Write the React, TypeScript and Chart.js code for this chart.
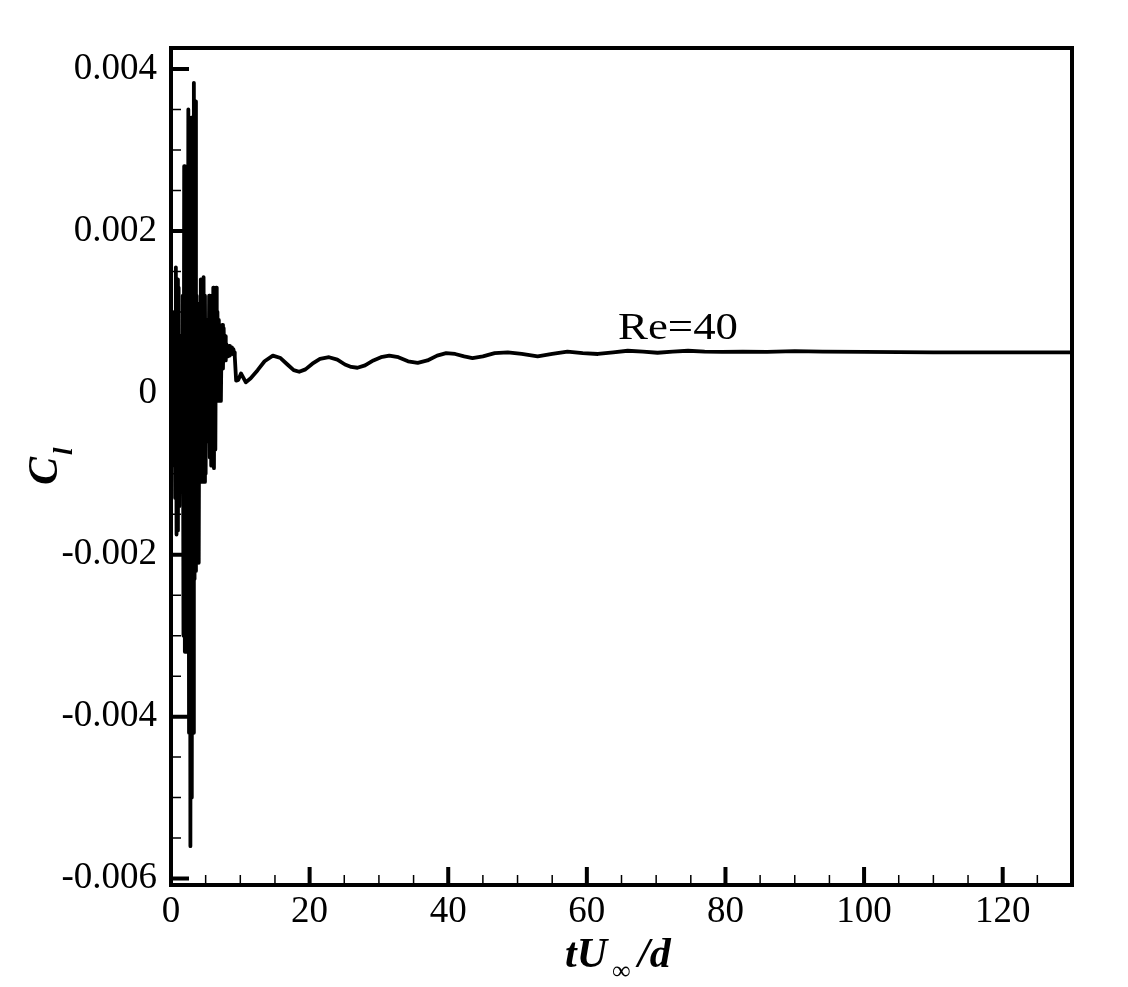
import React, { useEffect, useRef } from "react";
import { Chart, registerables } from "chart.js";

Chart.register(...registerables);

const FONT = "'Liberation Serif', 'Times New Roman', serif";

// time values tU/d
const tValues = [
  0.0, 0.1, 0.2, 0.3, 0.4, 0.5, 0.6, 0.7, 0.8, 0.9,
  1.0, 1.1, 1.2, 1.3, 1.4, 1.5, 1.6, 1.7, 1.8, 1.9,
  2.0, 2.1, 2.2, 2.3, 2.4, 2.5, 2.6, 2.7, 2.8, 2.9,
  3.0, 3.1, 3.2, 3.3, 3.4, 3.5, 3.6, 3.7, 3.8, 3.9,
  4.0, 4.1, 4.2, 4.3, 4.4, 4.5, 4.6, 4.7, 4.8, 4.9,
  5.0, 5.1, 5.2, 5.3, 5.4, 5.5, 5.6, 5.7, 5.8, 5.9,
  6.0, 6.1, 6.2, 6.3, 6.4, 6.5, 6.6, 6.7, 6.8, 6.9,
  7.0, 7.1, 7.2, 7.3, 7.4, 7.5, 7.6, 7.7, 7.8, 7.9,
  8.0, 8.1, 8.2, 8.3, 8.4, 8.5, 8.6, 8.7, 8.8, 8.9,
  9.0, 9.1, 9.2,
  9.4, 9.7, 10.1, 10.8, 11.5, 12.5, 13.5, 14.7, 15.8, 16.8,
  17.7, 18.5, 19.4, 20.4, 21.5, 22.8, 24.0, 25.1, 26.0, 26.9,
  28.0, 29.2, 30.3, 31.5, 32.8, 34.2, 35.6, 37.0, 38.4, 39.7,
  41.0, 42.3, 43.5, 45.0, 46.7, 48.6, 50.6, 52.9, 55.0, 57.2,
  59.4, 61.6, 63.8, 65.9, 68.1, 70.2, 72.4, 74.6, 77.0, 79.5,
  82.5, 86.0, 90.0, 94.0, 100.0, 110.0, 120.0, 130.0,
];

// lift coefficient Cl
const clValues = [
  0, 0.0003, -0.0005, 0.0002, -0.0009, 0.001, -0.0013, 0.00155, -0.00175, 0.0014,
  -0.0017, 0.0013, -0.0014, 0.0007, -0.0012, 0.0006, -0.0011, 0.0012, -0.003, 0.0028,
  -0.0032, 0.0026, -0.0032, 0.0027, -0.0029, 0.0035, -0.0042, 0.0033, -0.0056, 0.0034,
  -0.005, 0.003, -0.0042, 0.00383, -0.0023, 0.0036, -0.0022, 0.0012, -0.002, 0.0011,
  -0.0021, 0.0009, -0.0008, 0.0014, -0.0011, 0.0013, -0.001, 0.00143, -0.0011, 0.0012,
  -0.001, 0.0008, -0.0006, 0.0009, -0.0005, 0.0012, -0.0008, 0.0011, -0.0009, 0.0012,
  -0.0009, 0.0013, -0.00093, 0.0012, -0.0007, 0.0013, -0.0001, 0.001, -0.0001, 0.0009,
  0.0, 0.0008, -0.0001, 0.0007, 0.00084, 0.0003, 0.0008, 0.0004, 0.0007, 0.0004,
  0.0006, 0.00045, 0.00055, 0.0005, 0.00058, 0.00046, 0.00052, 0.0005, 0.00056, 0.00048,
  0.00054, 0.0005, 0.00045,
  0.00015, 0.00016, 0.00024, 0.00013, 0.00018, 0.00028, 0.00039, 0.00046, 0.00043, 0.00035,
  0.00028, 0.00026, 0.00029, 0.00036, 0.00042, 0.00044, 0.00041, 0.00035, 0.00032, 0.00031,
  0.00034, 0.0004, 0.00044, 0.00046, 0.00044, 0.00039, 0.00037, 0.0004, 0.00046, 0.00049,
  0.00048, 0.00045, 0.00043, 0.00045, 0.00049, 0.0005, 0.00048, 0.00045, 0.00048, 0.00051,
  0.00049, 0.00048, 0.0005, 0.00052, 0.00051, 0.000495, 0.00051, 0.00052, 0.00051, 0.000505,
  0.00051, 0.000505, 0.000515, 0.00051, 0.000505, 0.0005, 0.0005, 0.0005,
];

const xTickValues = [0, 20, 40, 60, 80, 100, 120];
const xTickLabels = ["0", "20", "40", "60", "80", "100", "120"];
const yTickValues = [-0.006, -0.004, -0.002, 0, 0.002, 0.004];
const yTickLabels = ["-0.006", "-0.004", "-0.002", "0", "0.002", "0.004"];
const xMinorStep = 5;
const yMinorStep = 0.0005;
const curveLabel = "Re=40";
const curveLabelAt = { x: 64.5, y: 0.00067 };

const framePlugin = {
  id: "frame",
  afterDatasetsDraw(chart: any) {
    const { ctx, chartArea } = chart;
    const { left, right, top, bottom } = chartArea;
    const xs = chart.scales.x;
    const ys = chart.scales.y;
    ctx.save();
    ctx.strokeStyle = "#000";
    ctx.fillStyle = "#000";
    ctx.lineCap = "butt";

    // minor ticks
    ctx.lineWidth = 1.5;
    ctx.beginPath();
    for (let v = xs.min; v <= xs.max + 1e-9; v += xMinorStep) {
      if (xTickValues.some((m) => Math.abs(m - v) < 1e-6)) continue;
      const px = xs.getPixelForValue(v);
      ctx.moveTo(px, bottom);
      ctx.lineTo(px, bottom - 10);
    }
    for (let k = -12; k <= 8; k++) {
      const v = k * yMinorStep;
      if (v < ys.min || v > ys.max) continue;
      if (yTickValues.some((m) => Math.abs(m - v) < 1e-9)) continue;
      const py = ys.getPixelForValue(v);
      ctx.moveTo(left, py);
      ctx.lineTo(left + 10, py);
    }
    ctx.stroke();

    // major ticks
    ctx.lineWidth = 4;
    ctx.beginPath();
    xTickValues.forEach((v) => {
      const px = xs.getPixelForValue(v);
      ctx.moveTo(px, bottom);
      ctx.lineTo(px, bottom - 18);
    });
    yTickValues.forEach((v) => {
      const py = ys.getPixelForValue(v);
      ctx.moveTo(left, py);
      ctx.lineTo(left + 18, py);
    });
    ctx.stroke();

    // frame
    ctx.lineWidth = 4;
    ctx.lineJoin = "miter";
    ctx.strokeRect(left, top, right - left, bottom - top);

    // curve label
    ctx.save();
    ctx.translate(xs.getPixelForValue(curveLabelAt.x), ys.getPixelForValue(curveLabelAt.y));
    ctx.scale(1.18, 1);
    ctx.font = `38px ${FONT}`;
    ctx.textBaseline = "alphabetic";
    ctx.textAlign = "left";
    ctx.fillText(curveLabel, 0, 0);
    ctx.restore();

    // x title: tU∞ /d
    ctx.textAlign = "left";
    ctx.textBaseline = "alphabetic";
    ctx.font = `italic bold 42px ${FONT}`;
    ctx.fillText("tU", 565, 967);
    ctx.font = `26px ${FONT}`;
    ctx.fillText("\u221E", 612, 979);
    ctx.font = `italic bold 42px ${FONT}`;
    ctx.fillText("/d", 638, 967);

    // y title: C_l rotated
    ctx.save();
    ctx.translate(57, 485);
    ctx.rotate(-Math.PI / 2);
    ctx.font = `italic bold 42px ${FONT}`;
    ctx.fillText("C", 0, 0);
    ctx.font = `italic bold 27px ${FONT}`;
    ctx.fillText("l", 30, 15);
    ctx.restore();

    ctx.restore();
  },
};

export default function App() {
  const ref = useRef<HTMLCanvasElement | null>(null);

  useEffect(() => {
    document.body.style.margin = "0";
    const canvas = ref.current;
    if (!canvas) return;
    const data = tValues.map((t, i) => ({ x: t, y: clValues[i] }));
    const chart = new Chart(canvas, {
      type: "line",
      data: {
        datasets: [
          {
            data,
            borderColor: "#000",
            borderWidth: 3.8,
            pointRadius: 0,
            tension: 0,
            borderJoinStyle: "round",
            fill: false,
          },
        ],
      },
      options: {
        animation: false,
        responsive: false,
        devicePixelRatio: 1,
        layout: { padding: { top: 48, right: 56, left: 0, bottom: 0 } },
        plugins: { legend: { display: false }, tooltip: { enabled: false } },
        scales: {
          x: {
            type: "linear",
            min: 0,
            max: 130,
            grid: { display: false, drawTicks: false },
            border: { display: false },
            ticks: {
              color: "#000",
              font: { family: FONT, size: 37 },
              padding: 5,
              maxRotation: 0,
              autoSkip: false,
              callback: (_v: any, i: number) => xTickLabels[i],
            },
            afterBuildTicks: (s: any) => {
              s.ticks = xTickValues.map((v) => ({ value: v }));
            },
            afterFit: (s: any) => {
              s.height = 102;
            },
          },
          y: {
            type: "linear",
            min: -0.00608,
            max: 0.00426,
            grid: { display: false, drawTicks: false },
            border: { display: false },
            ticks: {
              color: "#000",
              font: { family: FONT, size: 37 },
              padding: 14,
              autoSkip: false,
              callback: (_v: any, i: number) => yTickLabels[i],
            },
            afterBuildTicks: (s: any) => {
              s.ticks = yTickValues.map((v) => ({ value: v }));
            },
            afterFit: (s: any) => {
              s.width = 171;
            },
          },
        },
      },
      plugins: [framePlugin],
    });
    return () => chart.destroy();
  }, []);

  return (
    <div style={{ width: 1128, height: 987, background: "#fff" }}>
      <canvas ref={ref} width={1128} height={987} style={{ display: "block" }} />
    </div>
  );
}
